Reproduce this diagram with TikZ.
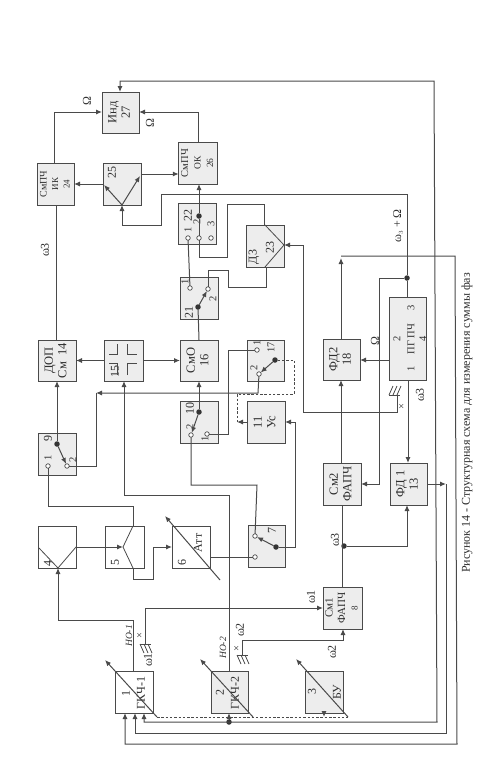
\documentclass[tikz,border=0pt]{standalone}
\usepackage{fontspec}
\usepackage{graphicx}
\setmainfont{Liberation Serif}
\usetikzlibrary{arrows.meta}
\definecolor{ln}{HTML}{4A4A4A}
\definecolor{gb}{HTML}{EDEDED}
\definecolor{tc}{HTML}{2E2E2E}
\tikzset{
 base/.style={draw=ln,line width=1pt,inner sep=0pt,outer sep=0pt,text=tc,font=\fontsize{12.5}{13.5}\selectfont,align=center},
 gbox/.style={base,fill=gb},
 wbox/.style={base,fill=white},
 wire/.style={draw=ln,line width=1pt,line join=miter},
 arr/.style={wire,-{Latex[length=6pt,width=5pt]}},
 barr/.style={wire,{Latex[length=6pt,width=5pt]}-{Latex[length=6pt,width=5pt]}},
 dash1/.style={wire,dashed,dash pattern=on 2.5pt off 1.8pt},
 thinw/.style={draw=ln,line width=.8pt},
 rt/.style={rotate=90,inner sep=0pt,text=tc,font=\fontsize{12}{13}\selectfont,align=center},
 rs/.style={rt,font=\fontsize{10.5}{11}\selectfont},
 ri/.style={rt,font=\itshape\fontsize{9.5}{10}\selectfont},
 cont/.style={circle,draw=ln,line width=.7pt,fill=white,minimum size=4.5pt,inner sep=0pt,outer sep=0pt},
 dotn/.style={circle,fill=ln!70!black,minimum size=5.5pt,inner sep=0pt,outer sep=0pt},
}
\newcommand\bx[7][gbox]{\node[#1,minimum width={(#5-#3)*1pt},minimum height={(#6-#4)*1pt}] (#2) at ({(#3+#5)/2},{(#4+#6)/2}) {#7};}
\newcommand\rr[1]{\rotatebox{90}{\begin{tabular}{@{}c@{}}#1\end{tabular}}}
\newcommand\lab[4][rt]{\node[#1] (#2) at (#3) {#4};}
\newcommand\anten[3]{% x, y, dir
  \draw[thinw] (#1-5,#2) -- (#1+6,#2);
  \draw[thinw] (#1-5,#2) -- ++(4,#3*9) (#1-1,#2) -- ++(4,#3*9) (#1+3,#2) -- ++(4,#3*9);}
\begin{document}
\begin{tikzpicture}[x=1pt,y=-1pt]
\useasboundingbox (0,0) rectangle (499,780);
% boxes
\bx{b27}{102}{92}{139}{133}{\rr{Инд\\27}}
\bx{b24}{37}{163}{74}{205}{\rr{\fontsize{10}{10}\selectfont СмПЧ\\[-2pt]\fontsize{9}{9}\selectfont ИК\\[-2pt]\fontsize{9}{9}\selectfont 24}}
\bx{b25}{103}{163}{141}{205}{}
\bx{b26}{179}{142}{217}{184}{\rr{\fontsize{10.5}{10}\selectfont СмПЧ\\[-1pt]\fontsize{9.5}{9}\selectfont ОК\\[-1pt]\fontsize{9.5}{9}\selectfont 26}}
\bx{b22}{178}{203}{216}{244}{}
\bx{b23}{246}{225}{284}{267}{}
\bx{b21}{180}{277}{218}{319}{}
\bx{b16}{180}{340}{218}{381}{\rr{СмО\\16}}
\bx{b15}{104}{340}{143}{381}{}
\bx{b10}{180}{401}{218}{443}{}
\bx{b17}{247}{340}{284}{381}{}
\bx{b11}{247}{401}{285}{443}{\rr{11\\Ус}}
\bx{b18}{323}{339}{360}{380}{\rr{ФД2\\18}}
\bx{b4pg}{389}{297}{426}{380}{}
\bx{bs2}{323}{463}{361}{505}{\rr{См2\\ФАПЧ}}
\bx{b13}{390}{463}{427}{505}{\rr{ФД 1\\13}}
\bx{b14}{38}{340}{76}{381}{\rr{ДОП\\См\ \ 14}}
\bx{b9}{38}{433}{76}{475}{}
\bx[wbox]{b4}{38}{526}{76}{568}{}
\bx[wbox]{b5}{105}{526}{144}{568}{}
\bx[wbox]{b6}{172}{526}{210}{568}{}
\bx{b7}{248}{525}{285}{567}{}
\bx[wbox]{b1}{115}{671}{153}{713}{}
\bx{b2}{211}{671}{248}{713}{}
\bx{b3}{305}{671}{343}{713}{}
\bx{bs1}{323}{587}{362}{629}{\rr{\fontsize{11}{10}\selectfont См1\\[-1pt]\fontsize{11}{10}\selectfont ФАПЧ\\[-1pt]\fontsize{9}{9}\selectfont 8}}
% in-box labels
\lab{t25}{112,172}{25}
\lab{t23a}{254,257}{Д3}
\lab{t23b}{270,247}{23}
\lab{t22}{188,215}{22}
\lab[rs]{t221}{188,230}{1}
\lab[rs]{t222}{197,222}{2}
\lab[rs]{t223}{211,224}{3}
\lab{t21}{189,312}{21}
\lab[rs]{t211}{185,282}{1}
\lab[rs]{t212}{213,299}{2}
\lab{t10}{190,408}{10}
\lab[rs]{t101}{205,439}{1}
\lab[rs]{t102}{190,427}{2}
\lab[rs]{t171}{257,343}{1}
\lab[rs]{t1717}{271,347}{17}
\lab[rs]{t172}{254,368}{2}
\lab{t9}{48,438}{9}
\lab[rs]{t91}{48,458}{1}
\lab[rs]{t92}{73,460}{2}
\lab{t15}{115,371}{15}
\lab[rs]{tpg1}{411,369}{1}
\lab[rs]{tpg2}{397,339}{2}
\lab[rs]{tpg3}{411,308}{3}
\lab[rs]{tpg4}{423,339}{4}
\lab[rs]{tpgn}{411,339}{ПГ ПЧ}
\lab{t4}{48,563}{4}
\lab{t5}{115,562}{5}
\lab{t6}{182,562}{6}
\lab{t7}{272,530}{7}
\lab{tatt}{198,543}{Атт}
\lab{t1}{126,693}{1}
\lab{t1n}{141,693}{ГКЧ-1}
\lab{t2}{220,692}{2}
\lab{t2n}{235,693}{ГКЧ-2}
\lab{t3}{312,691}{3}
\lab{t3n}{337,692}{БУ}
% signal labels
\lab{lO1}{87,101}{Ω}
\lab{lO2}{150,123}{Ω}
\lab{lw3a}{45,250}{ω3}
\lab{lsum}{398,226}{ω$_{\scriptscriptstyle 3}$ + Ω}
\lab{lO3}{375,341}{Ω}
\lab{lw3b}{420,395}{ω3}
\lab{lw3c}{335,540}{ω3}
\lab{lw1a}{311,597}{ω1}
\lab{lw2a}{332,652}{ω2}
\lab{lw1b}{148,660}{ω1}
\lab{lw2b}{240,630}{ω2}
\lab[ri]{lno1}{129,636}{НО-1}
\lab[ri]{lno2}{223,648}{НО-2}
\lab[rs]{lx1}{140,636}{×}
\lab[rs]{lx2}{237,649}{×}
\lab[rs]{lx3}{402,407}{×}
\node[rotate=90,inner sep=0pt,text=tc,font=\fontsize{12}{13}\selectfont] (cap) at (467,423) {Рисунок 14 - Структурная схема для измерения суммы фаз};
% contacts and dots
\node[cont] (c221) at (188,238) {};
\node[cont] (c222) at (199,238) {};
\node[cont] (c223) at (211,238) {};
\node[dotn] (d22) at (199,216) {};
\node[cont] (c211) at (190,288) {};
\node[cont] (c212) at (208,289) {};
\node[dotn] (d21) at (198,307) {};
\node[dotn] (d10) at (199,412) {};
\node[cont] (c101) at (207,434) {};
\node[cont] (c102) at (191,435) {};
\node[cont] (c171) at (257,350) {};
\node[cont] (c172) at (259,374) {};
\node[dotn] (d17) at (275,360) {};
\node[cont] (c91) at (48,466) {};
\node[cont] (c92) at (67,466) {};
\node[dotn] (d9) at (57,444) {};
\node[cont] (c71) at (255,536) {};
\node[cont] (c72) at (255,557) {};
\node[dotn] (d7) at (276,547) {};
\node[dotn] (dj1) at (407,278) {};
\node[dotn] (dj2) at (344,546) {};
\node[dotn] (dj3) at (229,722) {};
\coordinate (v25) at (122,205);
\coordinate (v23) at (284,245);
\coordinate (v5) at (123,547);
\coordinate (v4) at (58,568);
\coordinate (a1) at (145,644);
\coordinate (a2) at (242,655);
\coordinate (a3) at (397,395);
% internal symbols
\draw[arr] (v25) -- (140,176);
\draw[arr] (v25) -- (104,185);
\draw[thinw] (265,225) -- (v23) -- (265,267);
\draw[thinw] (133,526) -- (v5) -- (133,568);
\draw[thinw] (76,547) -- (v4) -- (39,548);
\draw[thinw] (117,344) -- (117,354) -- (109,354) (127,344) -- (127,354) -- (137,354) (117,375) -- (117,363) -- (109,363) (127,375) -- (127,363) -- (137,363);
\draw[arr] (d21) -- (c212);
\draw[arr] (d10) -- (c102);
\draw[arr] (d17) -- (c172);
\draw[arr] (d9) -- (c92);
\draw[arr] (d7) -- (c71);
% variable diagonals
\coordinate (e1) at (157,717);
\coordinate (e2) at (253,717);
\coordinate (e3) at (348,717);
\coordinate (e6) at (220,580);
\draw[arr] (e1) -- (105,660);
\draw[arr] (e2) -- (200,659);
\draw[arr] (e3) -- (296,659);
\draw[arr] (e6) -- (165,516);
\draw[dash1] (e1) -- (e3);
% connectors
\draw[barr] (b1.south -| 144,0) -- (144,722) -- (437,722) -- (434,81) -- (120,81) -- (b27.north -| 120,0);
\draw[arr] (dj3) -- (b2.south -| dj3);
\draw[arr] (b3.south -| 324,0) -- (324,717);
\draw[arr] (b13.east |- 0,484) -- (446,484);
\draw[wire] (446,484) -- (446,733) -- (135,733);
\draw[arr] (135,733) -- (b1.south -| 135,0);
\draw[arr] (b18.north -| 341,0) -- (341,258);
\draw[arr] (341,256) -- (455,256) -- (457,744) -- (125,744) -- (b1.south -| 125,0);
\draw[arr] (a3) -- (397,412) -- (303,412) -- (303,245) -- (v23);
\draw[wire] (b4pg.north -| 407,0) -- (dj1);
\draw[arr] (dj1) -- (407,194) -- (161,194) -- (161,225) -- (122,225) -- (v25);
\draw[arr] (dj1) -- (379,278) -- (379,484) -- (bs2.east |- 0,484);
\draw[arr] (b4pg.west |- 0,360) -- (b18.east |- 0,360);
\draw[arr] (b4pg.south -| 408,0) -- (b13.north -| 408,0);
\draw[arr] (dj2) -- (407,546) -- (b13.south -| 407,0);
\draw[wire] (bs1.north -| 342,0) -- (bs2.south -| 342,0);
\draw[arr] (bs2.north -| 341,0) -- (b18.south -| 341,0);
\draw[arr] (a1) -- (145,608) -- (bs1.west |- 0,608);
\draw[arr] (a2) -- (242,640) -- (343,640) -- (bs1.south -| 343,0);
\draw[arr] (b1.north -| 133,0) -- (133,620) -- (58,620) -- (v4);
\draw[arr] (b2.north -| 229,0) -- (229,495) -- (124,495) -- (b15.south -| 124,0);
\draw[arr] (76,547) -- (v5);
\draw[wire] (133,526) -- (133,506) -- (48,506) -- (c91);
\draw[arr] (133,568) -- (133,579) -- (153,579) -- (153,547) -- (b6.west);
\draw[wire] (b6.east |- 0,557) -- (c72);
\draw[arr] (d7) -- (295,547) -- (295,422) -- (b11.east);
\draw[wire] (c71) -- (257,485) -- (191,485) -- (c102);
\draw[arr] (d10) -- (b16.south -| d10);
\draw[wire] (c101) -- (228,434) -- (228,350) -- (c171);
\draw[arr] (c172) -- (258,393) -- (96,393);
\draw[wire] (96,393) -- (96,466) -- (c92);
\draw[dash1] (d17) -- (294,360) -- (294,394) -- (237,394) -- (237,422);
\draw[arr] (b11.west) -- (237,422);
\draw[arr] (b15.west) -- (b14.east);
\draw[arr] (b15.east) -- (b16.west);
\draw[wire] (b16.north -| 199,0) -- (d21);
\draw[wire] (c211) -- (c221);
\draw[wire] (c212) -- (208,270) -- (228,270) -- (228,287) -- (266,287) -- (b23.south -| 266,0);
\draw[wire] (b23.north -| 264,0) -- (264,204) -- (227,204) -- (227,257) -- (199,257) -- (c222);
\draw[wire] (c222) -- (d22);
\draw[arr] (d22) -- (b26.south -| d22);
\draw[arr] (b26.north -| 198,0) -- (198,112) -- (b27.east |- 0,112);
\draw[arr] (b25.east |- 0,174) -- (b26.west |- 0,174);
\draw[arr] (b25.west |- 0,184) -- (b24.east |- 0,184);
\draw[arr] (b24.north -| 54,0) -- (54,112) -- (b27.west |- 0,112);
\draw[wire] (b24.south -| 56,0) -- (b14.north -| 56,0);
\draw[arr] (d9) -- (b14.south -| d9);
% antennas
\anten{145}{644}{1}
\anten{242}{655}{1}
\anten{394}{395}{-1}
\end{tikzpicture}
\end{document}
